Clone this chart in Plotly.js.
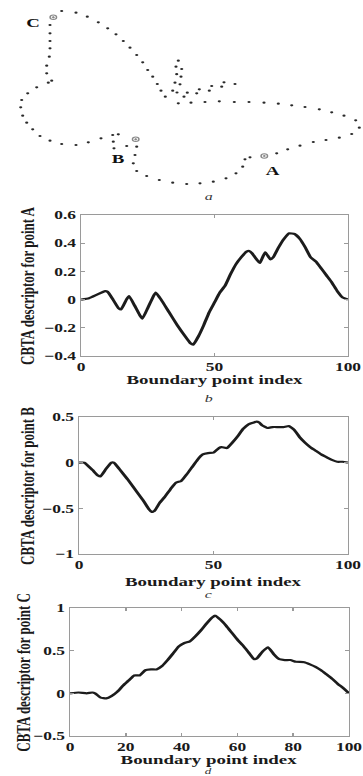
<!DOCTYPE html>
<html>
<head>
<meta charset="utf-8">
<script src="https://cdn.plot.ly/plotly-3.0.1.min.js"></script>
<style>
  html, body { margin: 0; padding: 0; background: #fff; overflow: hidden; }
  #plot { width: 250px; height: 776px; transform: scaleX(1.452); transform-origin: 0 0; }
</style>
</head>
<body>
<div id="plot"></div>
<script>
// ---- Panel a: boundary points (image coordinates) ----
const boundaryX = [61.7, 76, 87.3, 98.3, 107.7, 116, 123.3, 130, 136.7, 142.7, 147.7, 152.7, 157.3, 161, 165.3,
  178.3, 176, 181.7, 176.7, 181, 175, 180, 172.7, 177, 187.3, 184, 199.3, 196.7, 209.3, 211.7, 221.7, 224, 235,
  178.3, 191, 205, 219.3, 234.3, 249, 264, 278.3, 291.7, 305, 319.3, 331.7, 344, 355.7, 359.3, 351.7, 339.3, 326,
  313.3, 300, 287.7, 276.7, 250, 245, 242.7, 236, 226, 213.3, 200, 186.7, 172.7, 159.3, 146.7, 136.7, 133.3, 135,
  136.7, 126.7, 114, 113.3, 112.7, 118.3, 101, 88.3, 76, 61.7, 50, 40, 32.7, 26.7, 22.7, 20.7, 21.7, 27.7, 36.7,
  48.3, 51.7, 46.7, 46.7, 49.3, 50, 50, 50, 50];
const boundaryY = [11, 12.7, 16.7, 22.3, 28.3, 34.3, 41, 47.7, 55, 62.3, 70, 76.7, 84, 90.7, 96.7,
  60.7, 66.7, 69, 74.2, 76.7, 82.7, 84.3, 90.7, 92.5, 92.7, 96.7, 89.3, 93.3, 90.7, 86, 86.7, 82.3, 84,
  103.3, 102.7, 102, 101.3, 102, 102, 102.7, 103.7, 105.3, 107, 109.3, 112.3, 115.7, 120.3, 127.7, 134, 137.7, 140,
  142, 145.7, 149.3, 153.3, 157.3, 159.3, 166.7, 173.3, 178.3, 181.7, 183.3, 184, 182.7, 180, 176, 171, 163.3, 155,
  146.7, 146, 148.3, 141.7, 135, 134.3, 138.3, 142.3, 145, 144, 140.7, 136, 129.3, 122.7, 115.7, 107.3, 100, 93.3, 87.3,
  82.7, 80.7, 73.3, 65.7, 56.7, 48.3, 41, 33.3, 25];
const keyX = [264.3, 135.7, 53.3];
const keyY = [156, 139.3, 17.3];
const keyLabels = ['A', 'B', 'C'];
const keyLabelX = [273, 119, 33];
const keyLabelY = [170, 158, 22];

// ---- Panel b: CBTA descriptor for point A ----
const idxA = [0, 3, 6, 9, 10, 12, 14, 15, 17, 18, 20, 22, 23, 25, 27, 28, 30, 33, 36, 39, 41, 42, 44, 46, 48, 50,
  52, 54, 56, 58, 60, 62, 63, 64, 66, 67, 68, 69, 70, 71, 72, 74, 76, 78, 80, 82, 84, 86, 88, 90, 92, 94, 96, 98, 100];
const cbtaA = [0, 0.01, 0.035, 0.06, 0.055, 0.0, -0.06, -0.07, 0.0, 0.025, -0.04, -0.11, -0.135, -0.06, 0.02, 0.05,
  0.0, -0.09, -0.18, -0.26, -0.31, -0.32, -0.26, -0.18, -0.09, -0.02, 0.05, 0.1, 0.18, 0.25, 0.3, 0.34, 0.345, 0.33,
  0.28, 0.26, 0.3, 0.335, 0.31, 0.285, 0.3, 0.37, 0.43, 0.47, 0.465, 0.43, 0.37, 0.3, 0.27, 0.22, 0.17, 0.12, 0.06, 0.015, 0];

// ---- Panel c: CBTA descriptor for point B ----
const idxB = [0, 2, 5, 7, 8, 10, 12, 13, 15, 18, 21, 24, 26, 27, 28, 30, 32, 34, 36, 38, 40, 42, 44, 46, 48, 50,
  52, 53, 55, 57, 59, 61, 63, 65, 66, 67, 68, 70, 72, 74, 76, 78, 80, 82, 84, 86, 88, 90, 92, 94, 96, 98, 100];
const cbtaB = [0, 0, -0.08, -0.14, -0.15, -0.07, 0, 0, -0.07, -0.18, -0.3, -0.42, -0.51, -0.54, -0.53, -0.44, -0.37,
  -0.29, -0.22, -0.2, -0.13, -0.05, 0.03, 0.09, 0.105, 0.11, 0.16, 0.17, 0.16, 0.22, 0.29, 0.37, 0.42, 0.44, 0.45,
  0.44, 0.41, 0.38, 0.39, 0.39, 0.39, 0.4, 0.36, 0.28, 0.22, 0.17, 0.13, 0.09, 0.06, 0.03, 0.01, 0.01, 0];

// ---- Panel d: CBTA descriptor for point C ----
const idxC = [0, 3, 6, 8, 9, 11, 13, 15, 17, 19, 21, 23, 25, 27, 29, 31, 33, 35, 37, 39, 41, 43, 45, 47, 49, 51, 52,
  54, 56, 58, 60, 62, 64, 66, 67, 69, 71, 73, 75, 77, 79, 81, 84, 86, 88, 90, 92, 94, 96, 98, 100];
const cbtaC = [0, 0.01, 0.0, 0.01, 0.0, -0.05, -0.06, -0.03, 0.02, 0.09, 0.15, 0.21, 0.21, 0.27, 0.28, 0.28, 0.32,
  0.39, 0.47, 0.55, 0.59, 0.61, 0.67, 0.74, 0.82, 0.89, 0.91, 0.86, 0.79, 0.71, 0.63, 0.56, 0.48, 0.4, 0.41, 0.49,
  0.54, 0.46, 0.4, 0.39, 0.39, 0.37, 0.365, 0.34, 0.31, 0.27, 0.22, 0.17, 0.11, 0.06, 0];

const xTitle = 'Boundary point index';
const yTitles = ['CBTA descriptor for point A', 'CBTA descriptor for point B', 'CBTA descriptor for point C'];
const panelLetters = ['a', 'b', 'c', 'd'];

// ---- layout helpers ----
const W = 363, H = 776;
const px = v => v / W;
const py = v => 1 - v / H;
const serif = 'Liberation Serif, Times New Roman, serif';
const tickFont = {family: serif, size: 12, weight: 'bold', color: '#1a1a1a'};
const titleFont = {family: serif, size: 13, weight: 'bold', color: '#1a1a1a'};

function xAx(l, r, dtick, anchor) {
  return {domain: [px(l), px(r)], range: [0, 100], dtick: dtick, tick0: 0, anchor: anchor,
    showline: true, mirror: 'ticks', linecolor: '#9a9a9a', linewidth: 1,
    ticks: 'inside', ticklen: 3, tickcolor: '#9a9a9a', showgrid: false, zeroline: false,
    tickfont: tickFont, fixedrange: true};
}
function yAx(t, b, range, dtick, anchor) {
  return {domain: [py(b), py(t)], range: range, dtick: dtick, tick0: 0, anchor: anchor,
    showline: true, mirror: 'ticks', linecolor: '#9a9a9a', linewidth: 1,
    ticks: 'inside', ticklen: 3, tickcolor: '#9a9a9a', showgrid: false, zeroline: false,
    tickfont: tickFont, fixedrange: true};
}

const lineStyle = {color: '#1c1c1c', width: 2.2, shape: 'spline', smoothing: 0.4};

const data = [
  {x: boundaryX, y: boundaryY, xaxis: 'x', yaxis: 'y', mode: 'markers', type: 'scatter',
   marker: {size: 2.2, color: '#2a2a2a'}, hoverinfo: 'skip'},
  {x: keyX, y: keyY, xaxis: 'x', yaxis: 'y', mode: 'markers', type: 'scatter',
   marker: {symbol: 'circle-open-dot', size: 4.5, color: '#888', line: {width: 1, color: '#888'}}, hoverinfo: 'skip'},
  {x: idxA, y: cbtaA, xaxis: 'x2', yaxis: 'y2', mode: 'lines', type: 'scatter', line: lineStyle},
  {x: idxB, y: cbtaB, xaxis: 'x3', yaxis: 'y3', mode: 'lines', type: 'scatter', line: lineStyle},
  {x: idxC, y: cbtaC, xaxis: 'x4', yaxis: 'y4', mode: 'lines', type: 'scatter', line: lineStyle}
];

const annotations = [];
keyLabels.forEach((t, i) => annotations.push({
  text: t, x: keyLabelX[i], y: keyLabelY[i], xref: 'x', yref: 'y', showarrow: false,
  xanchor: 'center', yanchor: 'middle',
  font: {family: serif, size: 13, weight: 'bold', color: '#111'}
}));
const letterY = [196, 398, 594, 770.5];
const letterSize = [11, 11, 11, 9];
panelLetters.forEach((t, i) => annotations.push({
  text: t, x: px(209), y: py(letterY[i]), xref: 'paper', yref: 'paper', showarrow: false,
  xanchor: 'center', yanchor: 'middle',
  font: {family: serif, size: letterSize[i], style: 'italic', color: '#333'}
}));
// x-axis titles, centred under each plot
const xTitleX = [214.5, 213.5, 209.5];
const xTitleY = [379, 581, 759];
xTitleX.forEach((xx, i) => annotations.push({
  text: xTitle, x: px(xx), y: py(xTitleY[i]), xref: 'paper', yref: 'paper', showarrow: false,
  xanchor: 'center', yanchor: 'middle', font: titleFont
}));
// y-axis titles (rotated), centred on each plot
const yTitleX = [27, 27, 23];
const yTitleY = [285.5, 485.5, 672];
yTitles.forEach((t, i) => annotations.push({
  text: t, x: px(yTitleX[i]), y: py(yTitleY[i]), xref: 'paper', yref: 'paper', showarrow: false,
  textangle: -90, xanchor: 'center', yanchor: 'middle', font: titleFont
}));

const layout = {
  width: 250, height: H, margin: {l: 0, r: 0, t: 0, b: 0},
  paper_bgcolor: '#fff', plot_bgcolor: '#fff', showlegend: false,
  xaxis: {domain: [0, 1], range: [0, W], visible: false, fixedrange: true},
  yaxis: {domain: [py(200), 1], range: [200, 0], visible: false, fixedrange: true},
  xaxis2: xAx(81, 348, 50, 'y2'),
  yaxis2: yAx(215, 356, [-0.4, 0.6], 0.2, 'x2'),
  xaxis3: xAx(79, 348, 50, 'y3'),
  yaxis3: yAx(417, 554, [-1, 0.5], 0.5, 'x3'),
  xaxis4: xAx(70, 349, 20, 'y4'),
  yaxis4: yAx(608, 736, [-0.5, 1], 0.5, 'x4'),
  annotations: annotations
};

Plotly.newPlot('plot', data, layout, {displayModeBar: false, staticPlot: true});
</script>
</body>
</html>
